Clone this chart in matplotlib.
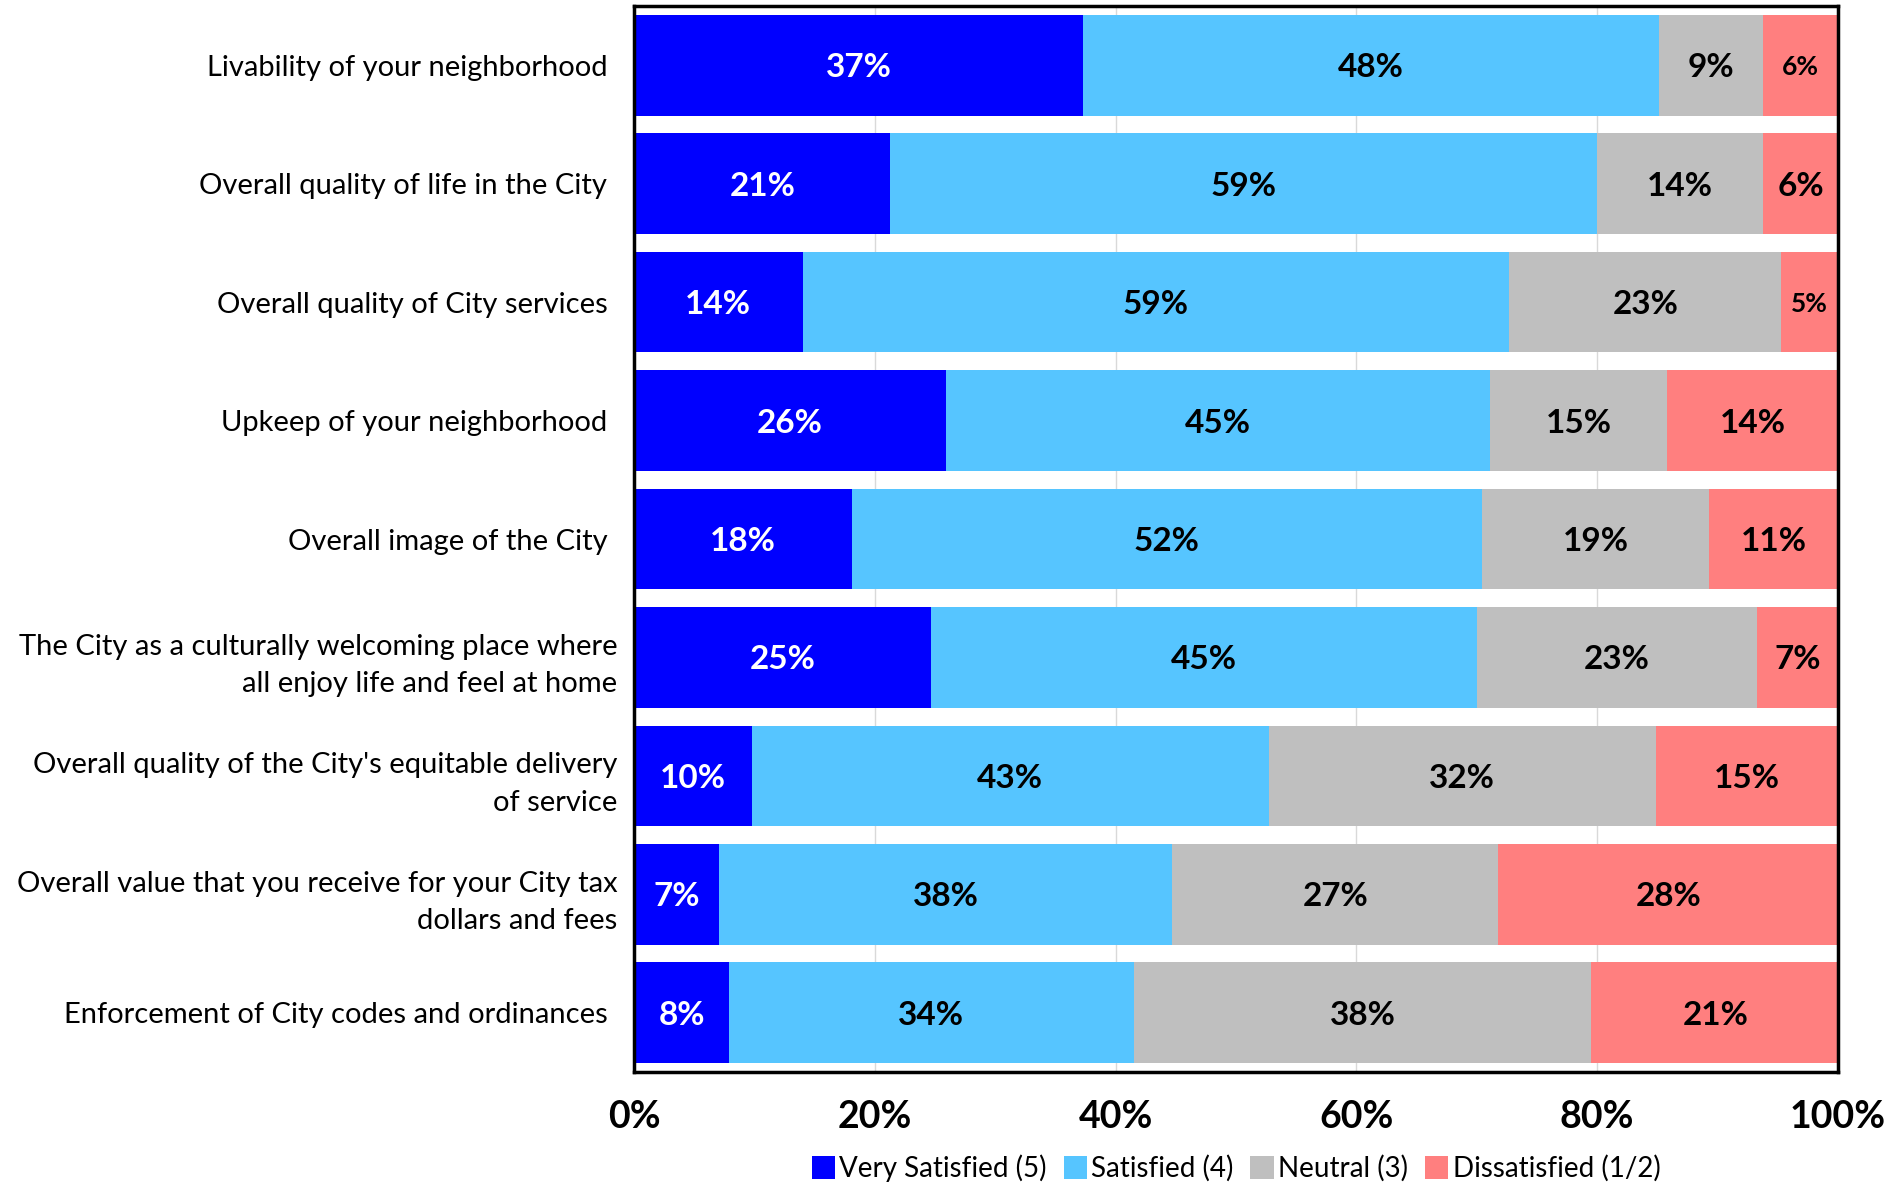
import matplotlib.pyplot as plt
import matplotlib.transforms as mtransforms
import numpy as np

categories = [
    "Livability of your neighborhood",
    "Overall quality of life in the City",
    "Overall quality of City services",
    "Upkeep of your neighborhood",
    "Overall image of the City",
    "The City as a culturally welcoming place where\nall enjoy life and feel at home",
    "Overall quality of the City's equitable delivery\nof service",
    "Overall value that you receive for your City tax\ndollars and fees",
    "Enforcement of City codes and ordinances",
]
very_satisfied = [37.3, 21.3, 14.0, 25.9, 18.1, 24.7, 9.8, 7.1, 7.9]
satisfied = [47.8, 58.7, 58.7, 45.2, 52.3, 45.3, 42.9, 37.6, 33.6]
neutral = [8.7, 13.8, 22.6, 14.7, 18.9, 23.3, 32.2, 27.1, 38.0]
dissatisfied = [6.2, 6.2, 4.7, 14.2, 10.7, 6.7, 15.1, 28.2, 20.6]

series = [
    ("Very Satisfied (5)", very_satisfied, "#0000FF", "white"),
    ("Satisfied (4)", satisfied, "#56C5FF", "black"),
    ("Neutral (3)", neutral, "#BFBFBF", "black"),
    ("Dissatisfied (1/2)", dissatisfied, "#FF7F7F", "black"),
]

plt.rcParams["font.family"] = ["Lato", "DejaVu Sans"]

fig = plt.figure(figsize=(19.02, 11.86), dpi=100)
ax = fig.add_axes([634 / 1902, 1 - 1072 / 1186, (1838 - 634) / 1902, (1072 - 6) / 1186])

y = np.arange(len(categories))
left = np.zeros(len(categories))
for name, vals, color, tcolor in series:
    vals = np.array(vals)
    ax.barh(y, vals, left=left, height=0.85, color=color, label=name, zorder=2)
    for yi, (l, v) in enumerate(zip(left, vals)):
        small = v < 6.5 and not (name.startswith("Diss") and yi == 1)
        ax.text(l + v / 2, yi, f"{v:.0f}%", ha="center", va="center_baseline",
                color=tcolor, fontweight="bold",
                fontsize=19 if small else 24)
    left += vals

ax.set_xlim(0, 100)
ax.set_ylim(len(categories) - 0.5, -0.5)
ax.set_yticks(y)
ax.set_yticklabels(categories, fontsize=21, linespacing=1.55)
ax.set_xticks(np.arange(0, 101, 20))
ax.set_xticklabels([f"{t}%" for t in range(0, 101, 20)], fontsize=27,
                   fontweight="bold")
ax.tick_params(axis="both", length=0)
ax.tick_params(axis="x", pad=20)
ax.tick_params(axis="y", pad=12)
ax.grid(axis="x", color="#D9D9D9", linewidth=1, zorder=0)
for s in ax.spines.values():
    s.set_linewidth(2.5)
    s.set_color("black")

# single-line labels sit a bit further from the axis than the wrapped ones
shift = mtransforms.ScaledTranslation(-10 / 100, 0, fig.dpi_scale_trans)
for lab in ax.get_yticklabels():
    if "\n" not in lab.get_text():
        lab.set_transform(lab.get_transform() + shift)

ax.legend(loc="center", bbox_to_anchor=(0.5, -0.09), ncol=4, frameon=False,
          handlelength=0.85, handleheight=0.9, handletextpad=0.15, columnspacing=0.6,
          borderpad=0.1, prop={"size": 20})

fig.savefig("out.png", dpi=100)
